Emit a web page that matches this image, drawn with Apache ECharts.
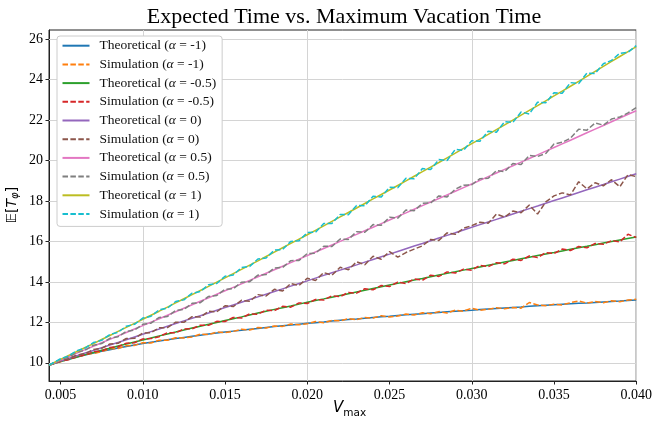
<!DOCTYPE html>
<html>
<head>
<meta charset="utf-8">
<script src="https://cdn.jsdelivr.net/npm/echarts@6/dist/echarts.min.js"></script>
<style>
  html, body { margin: 0; padding: 0; background: #fff; }
  #chart { width: 655px; height: 424px; }
</style>
</head>
<body>
<div id="chart"></div>
<script>
// Maximum vacation time grid for the closed-form curves
const vTheory = [0.0043, 0.005, 0.006, 0.007, 0.008, 0.009, 0.010, 0.011, 0.012, 0.013, 0.014, 0.015, 0.016, 0.017, 0.018, 0.019, 0.020, 0.021, 0.022, 0.023, 0.024, 0.025, 0.026, 0.027, 0.028, 0.029, 0.030, 0.031, 0.032, 0.033, 0.034, 0.035, 0.036, 0.037, 0.038, 0.039, 0.040];

// Maximum vacation time grid for the Monte-Carlo estimates
const vSim = [0.0043, 0.005, 0.0055, 0.006, 0.0065, 0.007, 0.0075, 0.008, 0.0085, 0.009, 0.0095, 0.010, 0.0105, 0.011, 0.0115, 0.012, 0.0125, 0.013, 0.0135, 0.014, 0.0145, 0.015, 0.0155, 0.016, 0.0165, 0.017, 0.0175, 0.018, 0.0185, 0.019, 0.0195, 0.020, 0.0205, 0.021, 0.0215, 0.022, 0.0225, 0.023, 0.0235, 0.024, 0.0245, 0.025, 0.0255, 0.026, 0.0265, 0.027, 0.0275, 0.028, 0.0285, 0.029, 0.0295, 0.030, 0.0305, 0.031, 0.0315, 0.032, 0.0325, 0.033, 0.0335, 0.034, 0.0345, 0.035, 0.0355, 0.036, 0.0365, 0.037, 0.0375, 0.038, 0.0385, 0.039, 0.0395, 0.040];

const alphaLabels = ['-1', '-0.5', '0', '0.5', '1'];

// Theoretical expected time
const theoNeg1 = [9.88, 10.07, 10.29, 10.48, 10.65, 10.81, 10.95, 11.08, 11.20, 11.31, 11.42, 11.52, 11.61, 11.70, 11.79, 11.87, 11.95, 12.02, 12.10, 12.17, 12.24, 12.30, 12.37, 12.43, 12.49, 12.55, 12.60, 12.66, 12.71, 12.76, 12.82, 12.87, 12.92, 12.96, 13.01, 13.05, 13.10];
const theoNeg05 = [9.88, 10.06, 10.29, 10.51, 10.72, 10.93, 11.13, 11.33, 11.52, 11.72, 11.90, 12.09, 12.27, 12.46, 12.64, 12.81, 12.99, 13.16, 13.33, 13.50, 13.67, 13.84, 14.01, 14.17, 14.34, 14.50, 14.66, 14.82, 14.98, 15.14, 15.30, 15.45, 15.61, 15.76, 15.92, 16.07, 16.22];
const theo0 = [9.88, 10.09, 10.35, 10.61, 10.88, 11.14, 11.41, 11.67, 11.94, 12.20, 12.46, 12.73, 12.99, 13.26, 13.52, 13.79, 14.05, 14.32, 14.58, 14.84, 15.11, 15.37, 15.64, 15.90, 16.17, 16.43, 16.70, 16.96, 17.22, 17.49, 17.75, 18.02, 18.28, 18.55, 18.81, 19.08, 19.34];
const theo05 = [9.88, 10.14, 10.48, 10.82, 11.16, 11.50, 11.84, 12.18, 12.52, 12.87, 13.21, 13.56, 13.90, 14.25, 14.60, 14.95, 15.30, 15.65, 16.00, 16.35, 16.70, 17.06, 17.41, 17.77, 18.12, 18.48, 18.84, 19.20, 19.56, 19.92, 20.28, 20.64, 21.00, 21.37, 21.73, 22.10, 22.46];
const theo1 = [9.88, 10.17, 10.56, 10.95, 11.35, 11.75, 12.15, 12.55, 12.96, 13.37, 13.78, 14.20, 14.62, 15.04, 15.47, 15.90, 16.33, 16.77, 17.21, 17.65, 18.10, 18.54, 18.99, 19.45, 19.90, 20.36, 20.83, 21.29, 21.76, 22.24, 22.71, 23.19, 23.67, 24.16, 24.65, 25.14, 25.63];

// Simulated expected time
const simNeg1 = [9.89,
  10.05, 10.20, 10.27, 10.42, 10.46, 10.55, 10.69, 10.71, 10.84, 10.86,
  10.99, 10.98, 11.12, 11.11, 11.24, 11.23, 11.28, 11.42, 11.39, 11.52,
  11.49, 11.55, 11.66, 11.62, 11.74, 11.72, 11.82, 11.80, 11.92, 11.88,
  11.93, 12.04, 11.98, 12.10, 12.07, 12.19, 12.13, 12.24, 12.21, 12.33,
  12.26, 12.31, 12.41, 12.36, 12.47, 12.42, 12.53, 12.46, 12.60, 12.55,
  12.70, 12.60, 12.64, 12.72, 12.67, 12.73, 12.70, 12.98, 12.86, 12.82,
  12.90, 12.86, 12.97, 13.06, 12.95, 13.03, 12.97, 13.07, 13.02, 13.10,
  13.14];
const simNeg05 = [9.89,
  10.08, 10.15, 10.33, 10.37, 10.55, 10.58, 10.76, 10.79, 10.97, 10.99,
  11.18, 11.20, 11.29, 11.49, 11.48, 11.67, 11.68, 11.86, 11.85, 12.05,
  12.04, 12.24, 12.21, 12.42, 12.40, 12.60, 12.58, 12.79, 12.75, 12.96,
  12.93, 13.13, 13.10, 13.31, 13.27, 13.48, 13.44, 13.66, 13.61, 13.82,
  13.77, 13.99, 13.92, 14.15, 14.08, 14.33, 14.27, 14.49, 14.44, 14.63,
  14.58, 14.82, 14.75, 14.95, 14.89, 15.12, 15.06, 15.28, 15.20, 15.45,
  15.40, 15.62, 15.55, 15.75, 15.68, 15.90, 15.86, 16.04, 15.98, 16.35,
  16.20];
const sim0 = [9.88,
  10.10, 10.20, 10.39, 10.45, 10.66, 10.71, 10.93, 10.96, 11.20, 11.21,
  11.47, 11.49, 11.73, 11.74, 12.01, 12.00, 12.28, 12.26, 12.55, 12.52,
  12.82, 12.78, 13.09, 13.04, 13.37, 13.30, 13.63, 13.55, 13.92, 13.82,
  14.18, 14.07, 14.46, 14.33, 14.72, 14.60, 14.99, 14.85, 15.27, 15.12,
  15.50, 15.22, 15.45, 15.62, 15.78, 16.10, 16.05, 16.42, 16.35, 16.65,
  16.78, 16.95, 16.90, 17.35, 17.20, 17.50, 17.42, 17.80, 17.35, 17.95,
  18.25, 18.40, 18.30, 18.95, 18.60, 18.90, 18.75, 19.05, 18.70, 19.30,
  19.20];
const sim05 = [9.88,
  10.17, 10.28, 10.52, 10.62, 10.87, 10.95, 11.21, 11.29, 11.55, 11.62,
  11.90, 11.96, 12.24, 12.29, 12.58, 12.64, 12.94, 12.97, 13.28, 13.33,
  13.63, 13.66, 13.98, 14.01, 14.33, 14.36, 14.69, 14.71, 15.05, 15.06,
  15.40, 15.42, 15.76, 15.75, 16.12, 16.10, 16.48, 16.45, 16.83, 16.80,
  17.19, 17.15, 17.55, 17.52, 17.88, 17.90, 18.25, 18.20, 18.58, 18.78,
  18.80, 19.10, 19.12, 19.50, 19.45, 19.85, 19.80, 20.25, 20.20, 20.35,
  20.82, 20.90, 21.10, 21.55, 21.50, 21.85, 21.75, 22.05, 22.15, 22.35,
  22.62];
const sim1 = [9.88,
  10.20, 10.34, 10.60, 10.73, 11.00, 11.11, 11.40, 11.51, 11.81, 11.90,
  12.21, 12.30, 12.62, 12.70, 13.03, 13.11, 13.44, 13.52, 13.86, 13.92,
  14.28, 14.34, 14.71, 14.76, 15.13, 15.18, 15.57, 15.60, 16.00, 16.03,
  16.44, 16.45, 16.88, 16.89, 17.33, 17.32, 17.78, 17.76, 18.23, 18.20,
  18.68, 18.65, 19.12, 19.10, 19.60, 19.55, 20.05, 20.00, 20.55, 20.50,
  20.98, 20.95, 21.45, 21.40, 21.92, 21.88, 22.40, 22.30, 22.88, 22.85,
  23.35, 23.32, 23.85, 23.80, 24.32, 24.30, 24.78, 24.95, 25.30, 25.35,
  25.68];

// Axis ticks
const xTicks = [0.005, 0.010, 0.015, 0.020, 0.025, 0.030, 0.035, 0.040];
const yTicks = [10, 12, 14, 16, 18, 20, 22, 24, 26];

const theorySets = [theoNeg1, theoNeg05, theo0, theo05, theo1];
const simSets = [simNeg1, simNeg05, sim0, sim05, sim1];
const theoryColors = ['#1f77b4', '#2ca02c', '#9467bd', '#e377c2', '#bcbd22'];
const simColors = ['#ff7f0e', '#d62728', '#8c564b', '#7f7f7f', '#17becf'];

const zip = (xs, ys) => xs.map((x, i) => [x, ys[i]]);
const SERIF = "'Liberation Serif', 'DejaVu Serif', serif";

const series = [{
  // grid lines drawn beneath every curve
  name: 'gridlines',
  type: 'line',
  data: [],
  silent: true,
  z: 1,
  markLine: {
    silent: true,
    symbol: 'none',
    animation: false,
    z: 1,
    label: { show: false },
    lineStyle: { color: '#d4d4d4', width: 1, type: 'solid' },
    data: xTicks.slice(0, -1).map(v => ({ xAxis: v })).concat(yTicks.map(v => ({ yAxis: v })))
  }
}];

const legendNames = [];
alphaLabels.forEach((a, i) => {
  const tName = 'Theoretical (α = ' + a + ')';
  const sName = 'Simulation (α = ' + a + ')';
  legendNames.push(tName, sName);
  series.push({
    name: tName,
    type: 'line',
    data: zip(vTheory, theorySets[i]),
    symbol: 'none',
    smooth: 0.2,
    z: 3 + 2 * i,
    lineStyle: { color: theoryColors[i], width: 1.5 },
    itemStyle: { color: theoryColors[i] }
  });
  series.push({
    name: sName,
    type: 'line',
    data: zip(vSim, simSets[i]),
    symbol: 'none',
    z: 4 + 2 * i,
    lineStyle: { color: simColors[i], width: 1.5, type: [5.5, 2.4] },
    itemStyle: { color: simColors[i] }
  });
});

const chart = echarts.init(document.getElementById('chart'), null, { renderer: 'canvas' });
chart.setOption({
  animation: false,
  backgroundColor: '#fff',
  title: {
    text: 'Expected Time vs. Maximum Vacation Time',
    left: 339,
    textAlign: 'center',
    top: 1,
    textStyle: { fontFamily: SERIF, fontSize: 22, fontWeight: 'normal', color: '#000' }
  },
  grid: {
    left: 49, right: 14, top: 30, bottom: 43,
    show: true, borderColor: '#222', borderWidth: 1, backgroundColor: 'transparent'
  },
  legend: {
    data: legendNames,
    orient: 'vertical',
    z: 50,
    left: 57,
    top: 36,
    itemWidth: 27,
    itemHeight: 14,
    itemGap: 4.7,
    padding: [2.7, 6, 5.4, 4.5],
    backgroundColor: '#ffffff',
    borderColor: '#cccccc',
    borderWidth: 1,
    borderRadius: 3,
    itemStyle: { opacity: 0 },
    formatter: name => name.replace('α', '{a|α}'),
    textStyle: {
      fontFamily: SERIF, fontSize: 13.5, color: '#111', padding: [0, 0, 0, 5],
      rich: { a: { fontFamily: SERIF, fontStyle: 'italic', fontSize: 13.5, color: '#111' } }
    }
  },
  xAxis: {
    type: 'value',
    min: 0.0043,
    max: 0.040,
    splitLine: { show: false },
    axisLine: { show: true, lineStyle: { color: '#222', width: 1 } },
    axisTick: { show: true, customValues: xTicks, length: 3.5, lineStyle: { color: '#222', width: 1 } },
    axisLabel: {
      customValues: xTicks,
      formatter: v => v.toFixed(3),
      fontFamily: SERIF, fontSize: 14, color: '#000', margin: 7
    }
  },
  yAxis: {
    type: 'value',
    min: 9.1,
    max: 26.45,
    splitLine: { show: false },
    axisLine: { show: true, lineStyle: { color: '#222', width: 1 } },
    axisTick: { show: true, customValues: yTicks, length: 3.5, lineStyle: { color: '#222', width: 1 } },
    axisLabel: {
      customValues: yTicks,
      formatter: v => String(v),
      fontFamily: SERIF, fontSize: 14, color: '#000', margin: 6
    }
  },
  graphic: [
    {
      type: 'text',
      left: 333,
      top: 401,
      style: {
        text: '{v|V}{s|max}',
        rich: {
          v: { fontFamily: 'DejaVu Sans', fontStyle: 'italic', fontSize: 15, color: '#000', lineHeight: 18, verticalAlign: 'top' },
          s: { fontFamily: 'DejaVu Sans', fontSize: 10.5, color: '#000', lineHeight: 18, padding: [7, 0, 0, 0] }
        }
      }
    },
    {
      type: 'text',
      x: 12,
      y: 205,
      rotation: Math.PI / 2,
      style: {
        text: '{e|𝔼}[{t|T}{p|φ}]',
        align: 'center',
        verticalAlign: 'middle',
        fontFamily: 'DejaVu Sans',
        fontSize: 14,
        fill: '#000',
        rich: {
          e: { fontFamily: 'DejaVu Sans', fontSize: 14, color: '#000' },
          t: { fontFamily: 'DejaVu Sans', fontStyle: 'italic', fontSize: 14, color: '#000' },
          p: { fontFamily: 'DejaVu Sans', fontStyle: 'italic', fontSize: 10, color: '#000', padding: [6, 0, 0, 0] }
        }
      }
    }
  ],
  series: series
});
</script>
</body>
</html>
